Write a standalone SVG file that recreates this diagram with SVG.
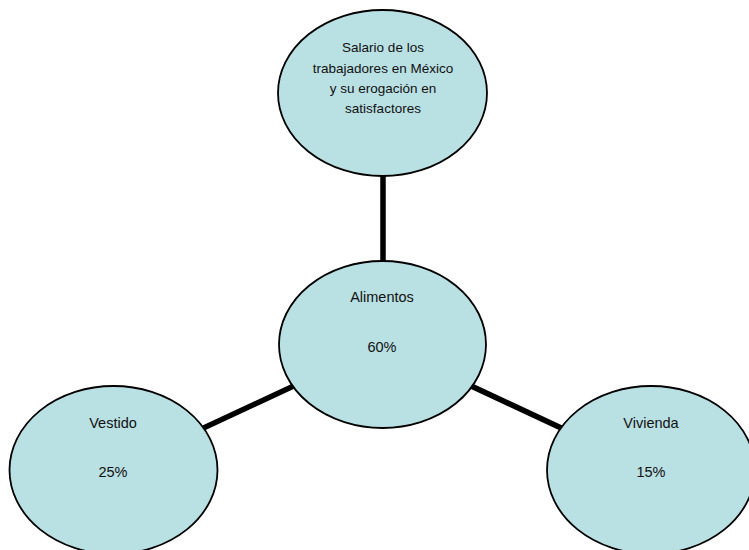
<svg xmlns="http://www.w3.org/2000/svg" width="749" height="550" viewBox="0 0 749 550">
<style>
.node{fill:#b9e0e3;stroke:#000;stroke-width:1.8}
.conn{stroke:#000;stroke-width:5.5;fill:none}
text{font-family:"Liberation Sans",Arial,sans-serif;fill:#111;text-anchor:middle}
.t{font-size:13.5px}
.m{font-size:14.5px}
</style>
<rect width="749" height="550" fill="#fff"/>
<g id="connectors">
<line class="conn" x1="383" y1="93" x2="383" y2="344.5"/>
<line class="conn" x1="382.5" y1="344.5" x2="113.5" y2="470"/>
<line class="conn" x1="382.5" y1="344.5" x2="651" y2="470"/>
</g>
<g id="node-salario">
<ellipse class="node" cx="382.5" cy="93" rx="104.5" ry="83"/>
<text class="t" x="383" y="52">Salario de los</text>
<text class="t" x="383" y="73">trabajadores en México</text>
<text class="t" x="383" y="93">y su erogación en</text>
<text class="t" x="383" y="113">satisfactores</text>
</g>
<g id="node-alimentos">
<ellipse class="node" cx="382.5" cy="344.5" rx="103.5" ry="83.5"/>
<text class="m" x="382" y="302">Alimentos</text>
<text class="m" x="382" y="352">60%</text>
</g>
<g id="node-vestido">
<ellipse class="node" cx="113.5" cy="470" rx="104" ry="84"/>
<text class="m" x="113" y="428">Vestido</text>
<text class="m" x="113" y="477">25%</text>
</g>
<g id="node-vivienda">
<ellipse class="node" cx="651" cy="470" rx="104" ry="84"/>
<text class="m" x="651" y="428">Vivienda</text>
<text class="m" x="651" y="477">15%</text>
</g>
</svg>
